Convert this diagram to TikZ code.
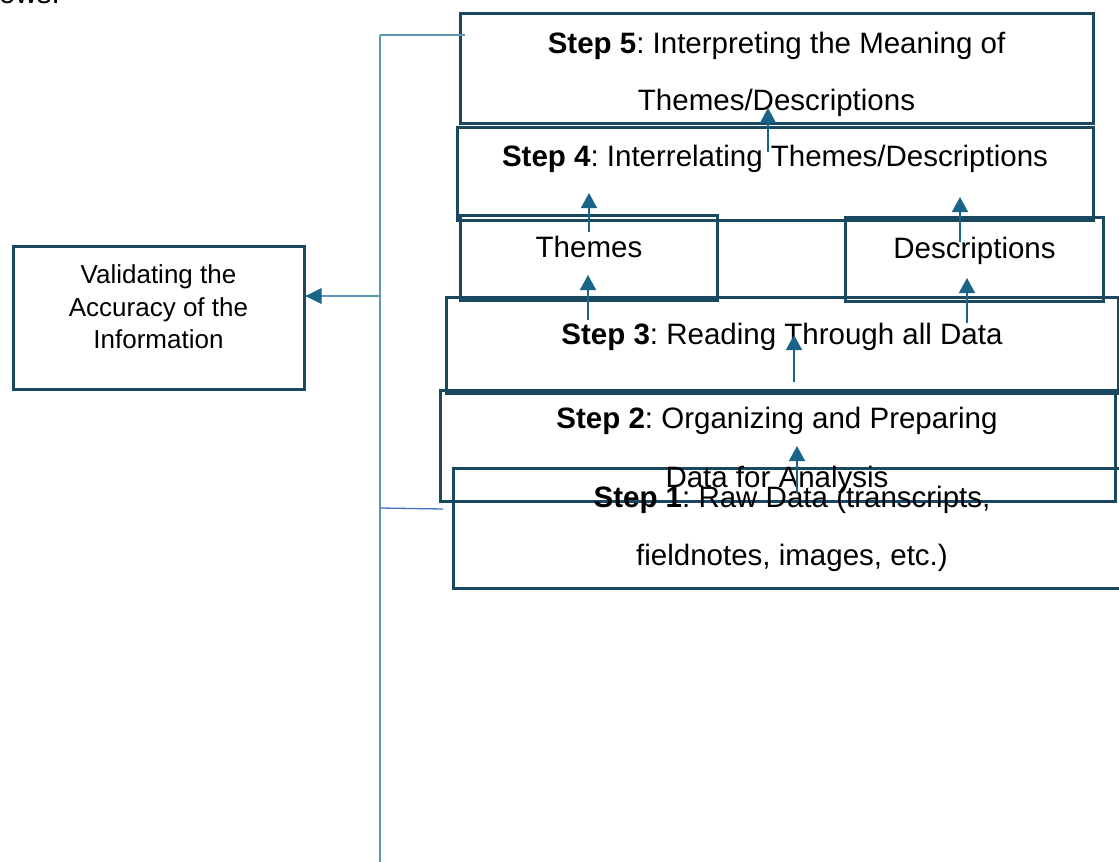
\documentclass[tikz,border=0pt]{standalone}
\usepackage{fontspec}
\setmainfont{Liberation Sans}
\usetikzlibrary{arrows.meta}
\frenchspacing
\definecolor{boxc}{RGB}{26,72,96}
\definecolor{arrowc}{RGB}{25,100,135}
\definecolor{linec}{RGB}{95,150,180}
\definecolor{bluec}{RGB}{70,115,195}
\tikzset{
  stepbox/.style={draw=boxc, line width=3pt, rectangle, inner sep=0pt, fill=none},
  steptxt/.style={anchor=base, inner sep=0pt, font=\fontsize{29.5}{35}\selectfont},
  valtxt/.style={anchor=base, inner sep=0pt, font=\fontsize{26}{31}\selectfont},
  flow/.style={draw=arrowc, line width=1.5pt, -{Triangle[width=16pt,length=15pt]}},
  feed/.style={draw=linec, line width=1.5pt},
}
\begin{document}
\begin{tikzpicture}[x=1pt,y=-1pt]
\useasboundingbox (0,0) rectangle (1119,862);
\fill[white] (0,0) rectangle (1119,862);
\clip (0,0) rectangle (1119,862);

% cut-off text of the page above
\node[anchor=base west, inner sep=0pt, font=\fontsize{29.5}{35}\selectfont] (prev) at (-1,4) {ows.};

% boxes
\node[stepbox, minimum width=633pt, minimum height=110pt] (s5) at (776.5,68) {};
\node[stepbox, minimum width=636pt, minimum height=93pt] (s4) at (775,173.5) {};
\node[stepbox, minimum width=257pt, minimum height=85pt] (th) at (588.5,257.5) {};
\node[stepbox, minimum width=258pt, minimum height=84pt] (de) at (974,259) {};
\node[stepbox, minimum width=672pt, minimum height=96pt] (s3) at (782,345) {};
\node[stepbox, minimum width=675pt, minimum height=111pt] (s2) at (777.5,445.5) {};
\node[stepbox, minimum width=678pt, minimum height=120pt] (s1) at (792,528) {};
\node[stepbox, minimum width=291pt, minimum height=143pt] (val) at (158.5,317.5) {};

% texts
\node[steptxt] (t5a) at (776.5,53) {\textbf{Step 5}: Interpreting the Meaning of};
\node[steptxt] (t5b) at (776.5,110) {Themes/Descriptions};
\node[steptxt] (t4) at (775,166) {\textbf{Step 4}: Interrelating Themes/Descriptions};
\node[steptxt] (tth) at (589,257) {Themes};
\node[steptxt] (tde) at (974.5,258) {Descriptions};
\node[steptxt] (t3) at (782,344) {\textbf{Step 3}: Reading Through all Data};
\node[steptxt] (t2a) at (777,428) {\textbf{Step 2}: Organizing and Preparing};
\node[steptxt] (t2b) at (777,487) {Data for Analysis};
\node[steptxt] (t1a) at (792,507) {\textbf{Step 1}: Raw Data (transcripts,};
\node[steptxt] (t1b) at (792,565) {fieldnotes, images, etc.)};
\node[valtxt] (tva) at (158.5,283) {Validating the};
\node[valtxt] (tvb) at (158.5,316) {Accuracy of the};
\node[valtxt] (tvc) at (158.5,348) {Information};

% arrow end points
\coordinate (a1s) at (768,152);  \coordinate (a1e) at (768,108);
\coordinate (a2s) at (589,232);  \coordinate (a2e) at (589,193);
\coordinate (a3s) at (588,320);  \coordinate (a3e) at (588,275);
\coordinate (a4s) at (960,242);  \coordinate (a4e) at (960,197);
\coordinate (a5s) at (967,323);  \coordinate (a5e) at (967,278);
\coordinate (a6s) at (794,382);  \coordinate (a6e) at (794,335);
\coordinate (a7s) at (797,493);  \coordinate (a7e) at (797,446);

\draw[flow] (a1s) -- (a1e);
\draw[flow] (a2s) -- (a2e);
\draw[flow] (a3s) -- (a3e);
\draw[flow] (a4s) -- (a4e);
\draw[flow] (a5s) -- (a5e);
\draw[flow] (a6s) -- (a6e);
\draw[flow] (a7s) -- (a7e);

% feedback line on the left
\coordinate (ftop) at (380,35);
\coordinate (ftopend) at (465,35);
\coordinate (fbot) at (380,862);
\coordinate (fmid) at (380,508);
\coordinate (fmidend) at (443,509);
\coordinate (fval) at (380,296);
\draw[feed] (ftop) -- (fbot);
\draw[feed] (ftop) -- (ftopend);
\draw[draw=bluec, line width=1.3pt] (fmid) -- (fmidend);
\draw[feed] (fval) -- (fval -| val.east);
\fill[arrowc] (val.east |- fval) -- ++(16,-8) -- ++(0,16) -- cycle;
\end{tikzpicture}
\end{document}
